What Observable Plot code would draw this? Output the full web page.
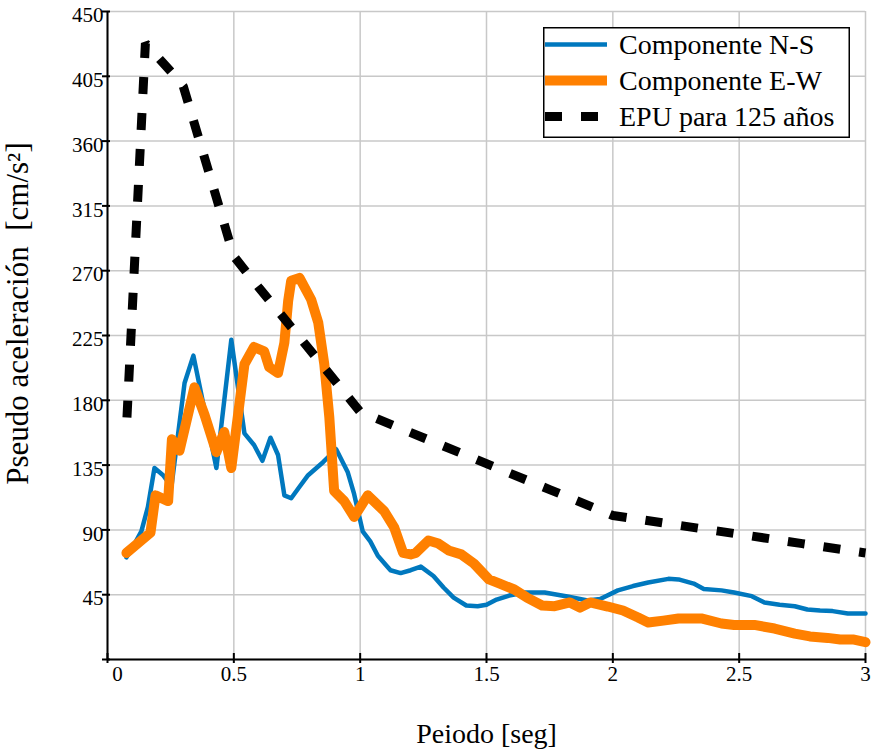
<!DOCTYPE html>
<html><head><meta charset="utf-8">
<script src="https://cdn.jsdelivr.net/npm/d3@7"></script>
<script src="https://cdn.jsdelivr.net/npm/@observablehq/plot@0.6"></script>
<style>
body{margin:0;background:#fff;}
#wrap{position:relative;width:873px;height:750px;font-family:'Liberation Serif','Times New Roman',serif;}
#wrap svg, #wrap svg g, #wrap svg text{font-family:'Liberation Serif','Times New Roman',serif !important;font-variant:normal !important;}
#legend{position:absolute;left:543px;top:27px;}
</style></head><body><div id="wrap"></div>
<script>
// Componente N-S
const nsT  = [0.075,0.10,0.134,0.16,0.186,0.22,0.253,0.305,0.34,0.431,0.49,0.542,0.58,0.613,0.645,0.675,0.70,0.727,0.76,0.794,0.853,0.905,0.951,0.976,1.01,1.04,1.07,1.10,1.12,1.16,1.20,1.24,1.29,1.33,1.37,1.42,1.465,1.50,1.54,1.59,1.65,1.73,1.82,1.90,1.95,2.02,2.08,2.14,2.22,2.26,2.32,2.36,2.43,2.48,2.55,2.60,2.66,2.72,2.77,2.82,2.87,2.93,3.0];
const nsSa = [71,78,89,106,133,128,120,192,211,133,222,157,149,138,154,142,114,112,120,128,137,146,130,115,89,82,72,66,62,60,62,64.5,58,50,43,37.5,37,38,41.6,44.4,46.5,46.5,43.7,41,42,48,51,53.5,56,55.6,52.7,49,48,46.5,44,39.6,38,37,34.7,34,33.6,32,32];
// Componente E-W
const ewT  = [0.075,0.17,0.19,0.24,0.255,0.285,0.344,0.384,0.431,0.462,0.49,0.542,0.58,0.62,0.64,0.675,0.70,0.715,0.727,0.76,0.806,0.834,0.858,0.878,0.897,0.937,0.976,1.03,1.095,1.134,1.17,1.2,1.22,1.27,1.31,1.35,1.40,1.45,1.51,1.55,1.61,1.66,1.72,1.77,1.83,1.87,1.91,1.98,2.04,2.10,2.14,2.20,2.26,2.35,2.43,2.48,2.56,2.64,2.72,2.78,2.85,2.90,2.95,3.0];
const ewSa = [74,88,114,110,153,145,189,170,144,158,133,205,217,214,203,199,220,249,263,265,250,234,205,168,117,110,99,114,103,92,74,73,74,82.6,80.5,75.7,73,66.7,55.6,52.8,48.6,43,37.5,37,39.6,36,39.6,36.8,34,29.2,25.7,27,28.5,28.5,25,24,24,21.5,18,16,15,13.9,13.9,12];
// EPU para 125 años
const epuT  = [0.077,0.15,0.257,0.30,0.40,0.5,0.6,0.75,1.0,1.25,1.5,1.75,2.0,2.25,2.5,2.75,3.0];
const epuSa = [168,428,407,398,339,280,258,226,172,154,136,118,100,93.5,87,80.5,74];

const xTicks = [0,0.5,1,1.5,2,2.5,3];
const xTickLabels = ["0","0.5","1","1.5","2","2.5","3"];
const yTicks = [0,45,90,135,180,225,270,315,360,405,450];
const yTickLabels = ["","45","90","135","180","225","270","315","360","405","450"];
const seriesNames = ["Componente N-S","Componente E-W","EPU para 125 años"];
const seriesColors = ["#0078BE","#FF8000","#000000"];
const xTitle = "Peiodo [seg]";
const yTitle = "Pseudo aceleración  [cm/s²]";

const serif = "'Liberation Serif','Times New Roman',serif";
const rows = (T, S) => T.map((t, i) => ({t, sa: S[i]}));
const xfmt = new Map(xTicks.map((t, i) => [t, xTickLabels[i]]));
const yfmt = new Map(yTicks.map((t, i) => [t, yTickLabels[i]]));

const chart = Plot.plot({
  width: 873, height: 750,
  marginLeft: 107, marginRight: 8, marginTop: 11, marginBottom: 91,
  style: {fontFamily: serif, color: "#000", background: "#fff", overflow: "visible"},
  x: {domain: [0, 3], label: null},
  y: {domain: [0, 450], label: null},
  marks: [
    Plot.gridX(xTicks, {stroke: "#c8c8c8", strokeOpacity: 1, strokeWidth: 1.5}),
    Plot.gridY(yTicks, {stroke: "#c8c8c8", strokeOpacity: 1, strokeWidth: 1.5}),
    Plot.line(rows(nsT, nsSa), {x: "t", y: "sa", stroke: seriesColors[0], strokeWidth: 4.5, strokeLinejoin: "round"}),
    Plot.line(rows(ewT, ewSa), {x: "t", y: "sa", stroke: seriesColors[1], strokeWidth: 10, strokeLinejoin: "round"}),
    Plot.line(rows(epuT, epuSa), {x: "t", y: "sa", stroke: seriesColors[2], strokeWidth: 9, strokeDasharray: "17,19", strokeLinecap: "butt", strokeLinejoin: "miter"}),
    Plot.ruleX([0], {stroke: "#000", strokeWidth: 2}),
    Plot.ruleY([0], {stroke: "#000", strokeWidth: 2}),
    Plot.axisX(xTicks, {tickSize: 10, dy: -6, tickFormat: () => "", strokeWidth: 2, label: null}),
    Plot.axisY(yTicks, {tickSize: 8, dx: 3, tickFormat: () => "", strokeWidth: 2, label: null}),
    Plot.axisX(xTicks.slice(1), {tickSize: 0, tickPadding: 7, fontSize: 21, fontFamily: serif, fontVariant: "normal", tickFormat: d => xfmt.get(d), label: null}),
    Plot.axisX(xTicks.slice(0, 1), {tickSize: 0, tickPadding: 7, dx: 10, fontSize: 21, fontFamily: serif, fontVariant: "normal", tickFormat: d => xfmt.get(d), label: null}),
    Plot.axisY(yTicks.slice(1), {tickSize: 0, tickPadding: 4, dy: 4, fontSize: 21, fontFamily: serif, fontVariant: "normal", tickFormat: d => yfmt.get(d), label: null}),
    Plot.text([xTitle], {text: d => d, frameAnchor: "bottom", dy: 75, fontSize: 28, fontFamily: serif, lineAnchor: "middle", fill: "#000"}),
    Plot.text([yTitle], {text: d => d, frameAnchor: "left", rotate: -90, dx: -89, dy: -22, fontSize: 31, fontFamily: serif, lineAnchor: "middle", textAnchor: "middle", fill: "#000"})
  ]
});
const wrap = document.getElementById("wrap");
wrap.appendChild(chart);

// Legend
const lg = d3.select(wrap).append("svg").attr("id", "legend").attr("width", 308).attr("height", 112);
lg.append("rect").attr("x", 0.75).attr("y", 0.75).attr("width", 305.5).attr("height", 109.5)
  .attr("fill", "#fff").attr("stroke", "#000").attr("stroke-width", 1.5);
const rowY = [17.5, 53.5, 89.5];
const widths = [4.5, 10, 9];
seriesNames.forEach((name, i) => {
  const l = lg.append("line").attr("x1", 2).attr("x2", 64).attr("y1", rowY[i]).attr("y2", rowY[i])
    .attr("stroke", seriesColors[i]).attr("stroke-width", widths[i]);
  if (i === 2) l.attr("stroke-dasharray", "17,19");
  lg.append("text").attr("x", 76).attr("y", rowY[i] + 9).attr("font-size", 28)
    .attr("font-family", serif).attr("fill", "#000").text(name);
});
</script>
</body></html>
